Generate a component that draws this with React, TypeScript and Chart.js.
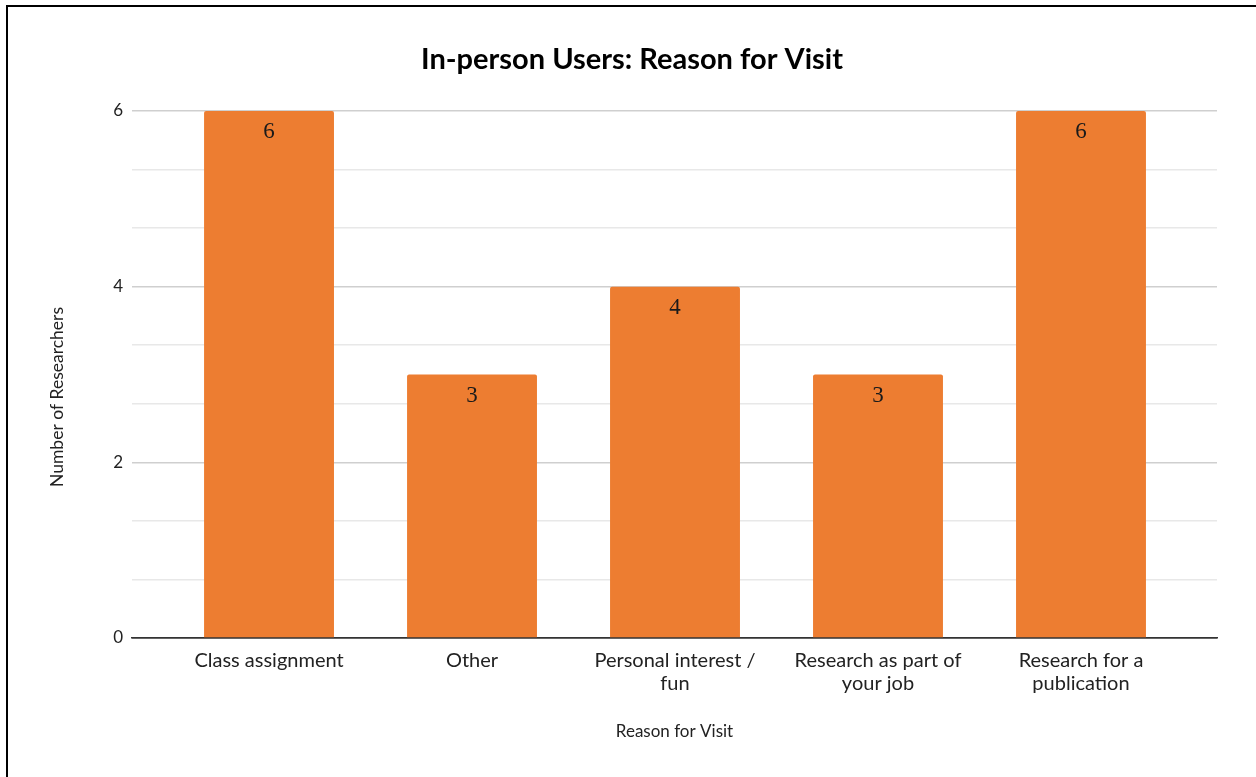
import React, { useEffect, useRef } from "react";
import { Chart, registerables } from "chart.js";

Chart.register(...registerables);

const TITLE = "In-person Users: Reason for Visit";
const X_TITLE = "Reason for Visit";
const Y_TITLE = "Number of Researchers";

const categories = [
  "Class assignment",
  "Other",
  "Personal interest / fun",
  "Research as part of your job",
  "Research for a publication",
];
const categoryLines = [
  ["Class assignment"],
  ["Other"],
  ["Personal interest /", "fun"],
  ["Research as part of", "your job"],
  ["Research for a", "publication"],
];
const researchers = [6, 3, 4, 3, 6];
const yLabeledTicks = [0, 2, 4, 6];
const Y_MAX = 6;
const MINOR_PER_MAJOR = 3;

const FONT = "Lato";
const ORANGE = "#ED7D31";

const isLabeled = (v: number) => yLabeledTicks.some((t) => Math.abs(t - v) < 1e-6);

const annotate = {
  id: "annotate",
  afterDraw(chart: any) {
    const ctx = chart.ctx as CanvasRenderingContext2D;
    const { left, right } = chart.chartArea;
    const meta = chart.getDatasetMeta(0);
    ctx.save();
    ctx.textAlign = "center";
    ctx.textBaseline = "middle";
    // value labels
    ctx.font = '23px "Liberation Serif"';
    ctx.fillStyle = "#1a1a1a";
    meta.data.forEach((bar: any, i: number) => {
      ctx.fillText(String(researchers[i]), bar.x, bar.y + 21);
    });
    // chart title
    ctx.font = `bold 29px ${FONT}`;
    ctx.fillStyle = "#000";
    ctx.fillText(TITLE, 632, 60);
    // x title
    ctx.font = `17px ${FONT}`;
    ctx.fillStyle = "#222";
    ctx.fillText(X_TITLE, (left + right) / 2, 732);
    // y title
    ctx.translate(57, 397);
    ctx.rotate(-Math.PI / 2);
    ctx.font = `17.5px ${FONT}`;
    ctx.fillText(Y_TITLE, 0, 0);
    ctx.restore();
  },
};

export default function App() {
  const ref = useRef<HTMLCanvasElement>(null);
  useEffect(() => {
    if (!ref.current) return;
    const chart = new Chart(ref.current, {
      type: "bar",
      data: {
        datasets: [
          {
            label: "Number of Researchers",
            data: researchers.map((v, i) => ({ x: i, y: v })),
            backgroundColor: ORANGE,
            borderRadius: { topLeft: 2, topRight: 2, bottomLeft: 0, bottomRight: 0 },
            borderSkipped: "start",
            categoryPercentage: 1,
            barPercentage: 0.64,
          },
        ],
      },
      options: {
        responsive: false,
        animation: false,
        devicePixelRatio: 1,
        layout: { padding: { top: 111, right: 39, bottom: 0, left: 0 } },
        plugins: {
          legend: { display: false },
          title: { display: false },
          tooltip: { enabled: false },
        },
        scales: {
          x: {
            type: "linear",
            offset: false,
            min: -0.675,
            max: 4.67,
            grid: { display: false, drawTicks: false, offset: false },
            border: { display: true, color: "#333", width: 1.5 },
            afterBuildTicks: (scale: any) => {
              scale.ticks = categories.map((_, i) => ({ value: i }));
            },
            afterFit: (scale: any) => {
              scale.height = 139;
            },
            ticks: {
              autoSkip: false,
              maxRotation: 0,
              padding: 11,
              color: "#222",
              font: { family: FONT, size: 20, lineHeight: 1.15 },
              callback: (value: any) => categoryLines[value as number] ?? "",
            },
          },
          y: {
            type: "linear",
            min: 0,
            max: Y_MAX,
            border: { display: false },
            afterBuildTicks: (scale: any) => {
              const step = yLabeledTicks[1] - yLabeledTicks[0];
              const n = (Y_MAX / step) * MINOR_PER_MAJOR;
              const ticks = [];
              for (let i = 0; i <= n; i++) ticks.push({ value: (i * step) / MINOR_PER_MAJOR });
              scale.ticks = ticks;
            },
            afterFit: (scale: any) => {
              scale.width = 132;
            },
            grid: {
              drawTicks: false,
              lineWidth: 1.5,
              color: (c: any) => {
                const v = c.tick?.value ?? 0;
                if (Math.abs(v) < 1e-6) return "#333";
                return isLabeled(v) ? "#cfcfcf" : "#e8e8e8";
              },
            },
            ticks: {
              padding: 9,
              color: "#222",
              font: { family: FONT, size: 17 },
              callback: (value: any) => {
                const v = Number(value);
                return isLabeled(v) ? String(Math.round(v)) : "";
              },
            },
          },
        },
      },
      plugins: [annotate],
    });
    return () => chart.destroy();
  }, []);

  return (
    <div
      style={{
        position: "fixed",
        left: 0,
        top: 0,
        width: 1256,
        height: 777,
        background: "#fff",
      }}
    >
      <canvas
        ref={ref}
        width={1256}
        height={777}
        style={{ position: "absolute", left: 0, top: 0, width: 1256, height: 777 }}
      />
      <div
        style={{
          position: "absolute",
          left: 6,
          top: 5,
          width: 1250,
          height: 772,
          borderTop: "2px solid #000",
          borderLeft: "2px solid #000",
          boxSizing: "border-box",
          pointerEvents: "none",
        }}
      />
    </div>
  );
}
